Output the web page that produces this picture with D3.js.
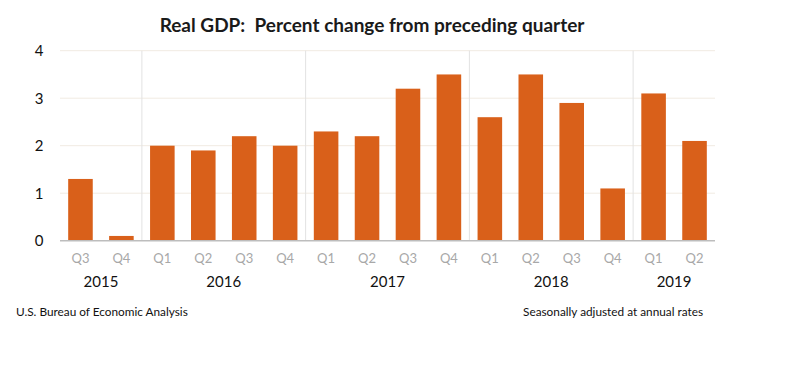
<!DOCTYPE html>
<html><head><meta charset="utf-8">
<script src="https://cdn.jsdelivr.net/npm/d3@7"></script>
<style>body{margin:0;background:#fff;} svg{display:block;}</style>
</head><body>
<svg id="c" width="800" height="365"></svg>
<script>
const quarters = ["Q3","Q4","Q1","Q2","Q3","Q4","Q1","Q2","Q3","Q4","Q1","Q2","Q3","Q4","Q1","Q2"];
const years = ["2015","2015","2016","2016","2016","2016","2017","2017","2017","2017","2018","2018","2018","2018","2019","2019"];
const values = [1.3,0.1,2.0,1.9,2.2,2.0,2.3,2.2,3.2,3.5,2.6,3.5,2.9,1.1,3.1,2.1];
const yTicks = [0,1,2,3,4];
const yearLabels = ["2015","2016","2017","2018","2019"];
const title = "Real GDP:  Percent change from preceding quarter";
const source = "U.S. Bureau of Economic Analysis";
const note = "Seasonally adjusted at annual rates";

const svg = d3.select("#c");
const font = "Lato, 'Open Sans', sans-serif";
const pLeft = 60, pRight = 715, pTop = 50.7, pBottom = 240.7;
const ids = values.map((v,i)=>i);
const x = d3.scaleBand().domain(ids).range([pLeft,pRight]).paddingInner(0.4).paddingOuter(0.2);
const y = d3.scaleLinear().domain([0,4]).range([pBottom,pTop]);

// gridlines
svg.append("g").selectAll("line").data(yTicks.filter(d=>d>0)).join("line")
  .attr("x1",pLeft).attr("x2",pRight).attr("y1",d=>y(d)).attr("y2",d=>y(d))
  .attr("stroke","#f1ebe2").attr("stroke-width",1);

// year separators
const sepIdx = ids.filter(i=>i>0 && years[i]!==years[i-1]);
svg.append("g").selectAll("line").data(sepIdx).join("line")
  .attr("x1",i=>x(i)-x.step()*x.paddingInner()/2).attr("x2",i=>x(i)-x.step()*x.paddingInner()/2)
  .attr("y1",pTop).attr("y2",pBottom)
  .attr("stroke","#e2e2e2").attr("stroke-width",1);

// bars
svg.append("g").selectAll("rect").data(ids).join("rect")
  .attr("x",i=>x(i)).attr("width",x.bandwidth())
  .attr("y",i=>y(values[i])).attr("height",i=>y(0)-y(values[i]))
  .attr("fill","#d9601a");

// baseline
svg.append("line").attr("x1",pLeft).attr("x2",pRight).attr("y1",y(0)).attr("y2",y(0))
  .attr("stroke","#bdbdbd").attr("stroke-width",1.5);

// y labels
svg.append("g").selectAll("text").data(yTicks).join("text")
  .attr("x",39).attr("y",d=>y(d)).attr("dy","0.36em").attr("text-anchor","middle")
  .attr("font-family",font).attr("font-size",15).attr("fill","#111").text(d=>d);

// quarter labels
svg.append("g").selectAll("text").data(ids).join("text")
  .attr("x",i=>x(i)+x.bandwidth()/2).attr("y",258).attr("dy","0.36em").attr("text-anchor","middle")
  .attr("font-family",font).attr("font-size",13).attr("fill","#a8a8a8").text(i=>quarters[i]);

// year labels
yearLabels.forEach(yr=>{
  const idx = ids.filter(i=>years[i]===yr);
  const x0 = x(idx[0]) - x.step()*x.paddingInner()/2;
  const x1 = x(idx[idx.length-1]) + x.bandwidth() + x.step()*x.paddingInner()/2;
  const a = Math.max(x0,pLeft), b = Math.min(x1,pRight);
  svg.append("text").attr("x",(a+b)/2).attr("y",282).attr("dy","0.36em").attr("text-anchor","middle")
    .attr("font-family",font).attr("font-size",15).attr("fill","#111").text(yr);
});

// title
svg.append("text").attr("x",372).attr("y",25).attr("dy","0.36em").attr("text-anchor","middle")
  .attr("font-family",font).attr("font-weight","bold").attr("font-size",19).attr("fill","#1a1a1a")
  .attr("xml:space","preserve").style("white-space","pre").text(title);

// footers
svg.append("text").attr("x",16).attr("y",312).attr("dy","0.36em")
  .attr("font-family",font).attr("font-size",11.8).attr("fill","#111").text(source);
svg.append("text").attr("x",703).attr("y",312).attr("dy","0.36em").attr("text-anchor","end")
  .attr("font-family",font).attr("font-size",11.8).attr("fill","#111").text(note);
</script>
</body></html>
